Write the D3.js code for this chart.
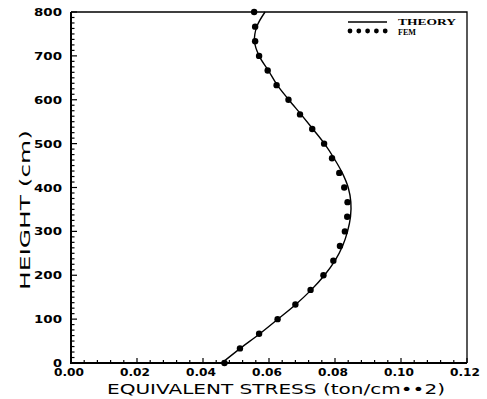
<!DOCTYPE html>
<html>
<head>
<meta charset="utf-8">
<script src="https://cdn.jsdelivr.net/npm/d3@7"></script>
<style>
  body { margin: 0; background: #fff; }
  svg text { fill: #000; }
</style>
</head>
<body>
<div id="chart"></div>
<script>
// heights (cm) and equivalent stress (ton/cm**2)
const femHeights = d3.range(0, 25).map(i => i * 800 / 24);
const femStress = [
  0.0465, 0.0512, 0.0570, 0.0626, 0.0680, 0.0726, 0.0765, 0.0795, 0.0815,
  0.0830, 0.0837, 0.0838, 0.0828, 0.0813, 0.0791, 0.0767, 0.0731, 0.0694,
  0.0659, 0.0623, 0.0596, 0.0570, 0.0558, 0.0558, 0.0555
];
const theoryHeights = femHeights;
const theoryStress = [
  0.0457, 0.0513, 0.0572, 0.0627, 0.0681, 0.0728, 0.0768, 0.0800, 0.0823,
  0.0838, 0.0847, 0.0848, 0.0840, 0.0822, 0.0797, 0.0768, 0.0733, 0.0697,
  0.0660, 0.0625, 0.0598, 0.0570, 0.0556, 0.0563, 0.0588
];
const xTicks = [0, 0.02, 0.04, 0.06, 0.08, 0.10, 0.12];
const yTicks = [0, 100, 200, 300, 400, 500, 600, 700, 800];
const legendLabels = ['THEORY', 'FEM'];

const width = 487, height = 399;
const mLeft = 71, mRight = 467, mTop = 12, mBottom = 363;

const svg = d3.select('#chart').append('svg')
  .attr('width', width)
  .attr('height', height);

const x = d3.scaleLinear().domain([0, 0.12]).range([mLeft, mRight]);
const y = d3.scaleLinear().domain([0, 800]).range([mBottom, mTop]);

// frame (top + right, thin)
svg.append('path')
  .attr('d', `M${mLeft},${mTop}H${mRight}V${mBottom}`)
  .attr('fill', 'none')
  .attr('stroke', '#000')
  .attr('stroke-width', 1.3);

// minor ticks
const g = svg.append('g');
g.selectAll('.xminor')
  .data(d3.range(0, 31).map(i => i * 0.004))
  .enter().append('line')
  .attr('x1', d => x(d)).attr('x2', d => x(d))
  .attr('y1', mBottom).attr('y2', (d, i) => mBottom - (i % 5 === 0 ? 5 : 3))
  .attr('stroke', '#000').attr('stroke-width', 1.2);
g.selectAll('.yminor')
  .data(d3.range(0, 65).map(i => i * 12.5))
  .enter().append('line')
  .attr('y1', d => y(d)).attr('y2', d => y(d))
  .attr('x1', mLeft).attr('x2', (d, i) => mLeft + (i % 8 === 0 ? 6 : 3.5))
  .attr('stroke', '#000').attr('stroke-width', 1.2);

// axes lines
svg.append('path')
  .attr('d', `M${mLeft},${mTop}V${mBottom}H${mRight}`)
  .attr('fill', 'none')
  .attr('stroke', '#000')
  .attr('stroke-width', 2);

// tick labels
svg.selectAll('.ylab')
  .data(yTicks)
  .enter().append('text')
  .attr('x', 62)
  .attr('y', d => y(d) + 4)
  .attr('text-anchor', 'end')
  .attr('font-family', 'DejaVu Sans')
  .attr('font-weight', 'bold')
  .attr('font-size', 11)
  .attr('textLength', d => d === 0 ? 9 : 28)
  .attr('lengthAdjust', 'spacingAndGlyphs')
  .text(d => d);

svg.selectAll('.xlab')
  .data(xTicks)
  .enter().append('text')
  .attr('x', d => x(d) - 2)
  .attr('y', 376)
  .attr('text-anchor', 'middle')
  .attr('font-family', 'DejaVu Sans')
  .attr('font-weight', 'bold')
  .attr('font-size', 10.5)
  .attr('textLength', 30)
  .attr('lengthAdjust', 'spacingAndGlyphs')
  .text(d => d.toFixed(2));

// axis titles
svg.append('text')
  .attr('x', 107)
  .attr('y', 394)
  .attr('font-family', 'DejaVu Sans')
  .attr('font-size', 14)
  .attr('textLength', 338)
  .attr('lengthAdjust', 'spacingAndGlyphs')
  .text('EQUIVALENT  STRESS  (ton/cm\u2022\u20222)');

svg.append('text')
  .attr('transform', 'translate(30,290) rotate(-90)')
  .attr('font-family', 'DejaVu Sans')
  .attr('font-size', 14)
  .attr('textLength', 160)
  .attr('lengthAdjust', 'spacingAndGlyphs')
  .text('HEIGHT  (cm)');

// theory curve
const theory = theoryHeights.map((h, i) => [theoryStress[i], h]);
const line = d3.line()
  .x(d => x(d[0]))
  .y(d => y(d[1]))
  .curve(d3.curveCatmullRom);
svg.append('path')
  .datum(theory)
  .attr('d', line)
  .attr('fill', 'none')
  .attr('stroke', '#000')
  .attr('stroke-width', 1.4);

// FEM points
svg.selectAll('.fem')
  .data(femHeights.map((h, i) => [femStress[i], h]))
  .enter().append('circle')
  .attr('cx', d => x(d[0]))
  .attr('cy', d => y(d[1]))
  .attr('r', 3.2)
  .attr('fill', '#000');

// legend
const lx0 = 348, lx1 = 387;
svg.append('line')
  .attr('x1', lx0).attr('x2', lx1)
  .attr('y1', 22).attr('y2', 22)
  .attr('stroke', '#000').attr('stroke-width', 1.3);
svg.selectAll('.legdot')
  .data(d3.range(5))
  .enter().append('circle')
  .attr('cx', d => lx0 + 2 + d * 8.8)
  .attr('cy', 31)
  .attr('r', 2.4)
  .attr('fill', '#000');
svg.selectAll('.legtxt')
  .data(legendLabels)
  .enter().append('text')
  .attr('x', 398)
  .attr('y', (d, i) => 25 + i * 9.5)
  .attr('font-family', 'Liberation Serif')
  .attr('font-weight', 'bold')
  .attr('font-size', 9)
  .attr('textLength', (d, i) => i === 0 ? 58 : 18)
  .attr('lengthAdjust', 'spacingAndGlyphs')
  .text(d => d);
</script>
</body>
</html>
